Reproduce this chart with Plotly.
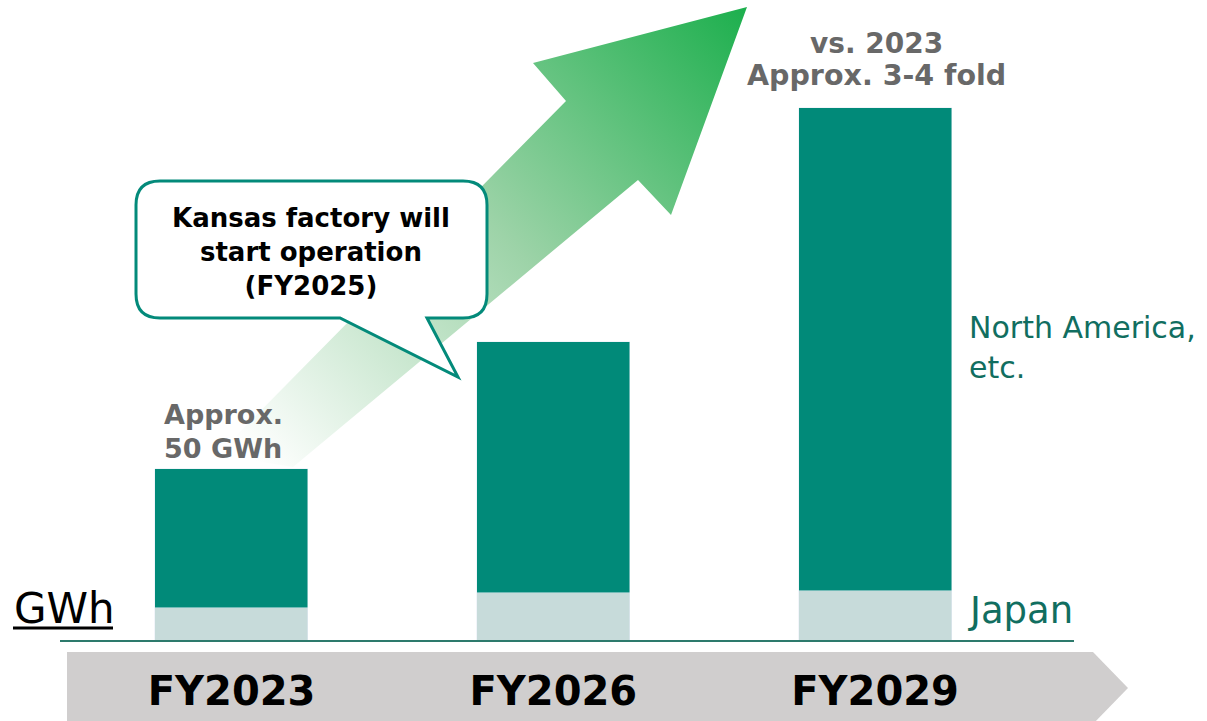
import base64
import plotly.graph_objects as go

# ---- data ----
categories = ["FY2023", "FY2026", "FY2029"]
japan = [9.7, 14.0, 14.5]
north_america = [40.3, 72.9, 140.5]

W, H = 1207, 721
BASE = 641  # pixel row of the x axis (plot bottom)
PX_PER_UNIT = 3.44

FONT = "DejaVu Sans"
TEAL = "#018a79"
LIGHT = "#c7dbda"
LABEL_TEAL = "#116e60"
GRAY_TXT = "#686868"


def px(x, y):
    return x / W, (BASE - y) / BASE


def path_px(cmds):
    out = []
    for c in cmds:
        if isinstance(c, str):
            out.append(c)
        else:
            xp, yp = px(*c)
            out.append(f"{xp:.5f},{yp:.5f}")
    return " ".join(out)


fig = go.Figure()
fig.add_trace(go.Bar(x=categories, y=japan, marker_color=LIGHT, width=0.4755,
                     name="Japan", hoverinfo="skip"))
fig.add_trace(go.Bar(x=categories, y=north_america, marker_color=TEAL, width=0.4755,
                     name="North America, etc.", hoverinfo="skip"))

# gradient arrow as svg image
svg = f'''<svg xmlns="http://www.w3.org/2000/svg" width="{W}" height="{H}" viewBox="0 0 {W} {H}" preserveAspectRatio="none">
<defs><linearGradient id="g" gradientUnits="userSpaceOnUse" x1="262" y1="468" x2="747" y2="7">
<stop offset="0" stop-color="#ffffff"/>
<stop offset="0.5" stop-color="#9dd3a8"/>
<stop offset="1" stop-color="#1caf4d"/>
</linearGradient></defs>
<polygon points="747,7 671,215 638,180 293,467 217,455 566,101 533,63" fill="url(#g)"/>
</svg>'''
src = "data:image/svg+xml;base64," + base64.b64encode(svg.encode()).decode()

shapes = []
# gray timeline arrow
shapes.append(dict(type="path", xref="paper", yref="paper", layer="below",
                   path=path_px(["M", (67, 652), "L", (1093, 652), "L", (1128, 688),
                                 "L", (1093, 724), "L", (67, 724), "Z"]),
                   fillcolor="#d0cece", line=dict(width=0)))
# callout box
shapes.append(dict(type="path", xref="paper", yref="paper", layer="above",
                   path=path_px(["M", (160, 181), "L", (463, 181), "Q", (487, 181), (487, 205),
                                 "L", (487, 294), "Q", (487, 318), (463, 318),
                                 "L", (427, 318), "L", (458, 377), "L", (340, 318),
                                 "L", (160, 318), "Q", (136, 318), (136, 294),
                                 "L", (136, 205), "Q", (136, 181), (160, 181), "Z"]),
                   fillcolor="white", line=dict(color="#038a7a", width=3)))
# baseline
x0, y0 = px(60, 641)
x1, _ = px(1074, 641)
shapes.append(dict(type="line", xref="paper", yref="paper", layer="above",
                   x0=x0, x1=x1, y0=y0, y1=y0, line=dict(color="#2d7a6c", width=2)))
# GWh underline
ux0, uy = px(13, 628)
ux1, _ = px(113, 628)
shapes.append(dict(type="line", xref="paper", yref="paper", layer="above",
                   x0=ux0, x1=ux1, y0=uy, y1=uy, line=dict(color="black", width=3)))


def ann(text, x, baseline, size, color, xanchor="left", bold=False, lines=1):
    xp, _ = px(x, 0)
    # center of text block
    lh = 1.3 * size
    cy = baseline + (lines - 1) * lh / 2 - 0.346 * size
    _, yp = px(0, cy)
    return dict(text=text, x=xp, y=yp, xref="paper", yref="paper", xanchor=xanchor,
                yanchor="middle", showarrow=False, align="center" if xanchor == "center" else "left",
                font=dict(family=FONT, size=size, color=color, weight="bold" if bold else "normal"),
                borderpad=0)


annotations = [
    ann("GWh", 13, 623.3, 42, "black"),
    ann("Japan", 967, 623.3, 37, LABEL_TEAL),
    ann("North America,", 968, 338.3, 30, LABEL_TEAL),
    ann("etc.", 968, 378.3, 30, LABEL_TEAL),
    ann("Approx.", 163, 424.3, 27, GRAY_TXT, bold=True),
    ann("50 GWh", 163, 458.3, 27, GRAY_TXT, bold=True),
    ann("vs. 2023", 876, 53.3, 28, GRAY_TXT, xanchor="center", bold=True),
    ann("Approx. 3-4 fold", 876, 85, 28.5, GRAY_TXT, xanchor="center", bold=True),
    ann("Kansas factory will<br>start operation<br>(FY2025)", 311, 227.3, 26, "black",
        xanchor="center", bold=True, lines=3),
]

fig.update_layout(
    width=W, height=H,
    margin=dict(l=0, r=0, t=0, b=H - BASE, pad=0),
    barmode="stack",
    bargap=0,
    showlegend=False,
    plot_bgcolor="white", paper_bgcolor="white",
    font=dict(family=FONT),
    shapes=shapes,
    annotations=annotations,
    images=[dict(source=src, xref="paper", yref="paper", x=0, y=1, sizex=1,
                 sizey=H / BASE, xanchor="left", yanchor="top", sizing="stretch",
                 layer="below")],
    xaxis=dict(type="category", range=[-0.7198, 3.0316], showgrid=False, zeroline=False,
               showline=False, ticks="", ticklabelstandoff=23,
               tickfont=dict(family=FONT, size=40, color="black", weight="bold")),
    yaxis=dict(range=[0, BASE / PX_PER_UNIT], visible=False),
)

fig.write_html("out.html", config={"displayModeBar": False},
               post_script="document.body.style.margin='0';")
